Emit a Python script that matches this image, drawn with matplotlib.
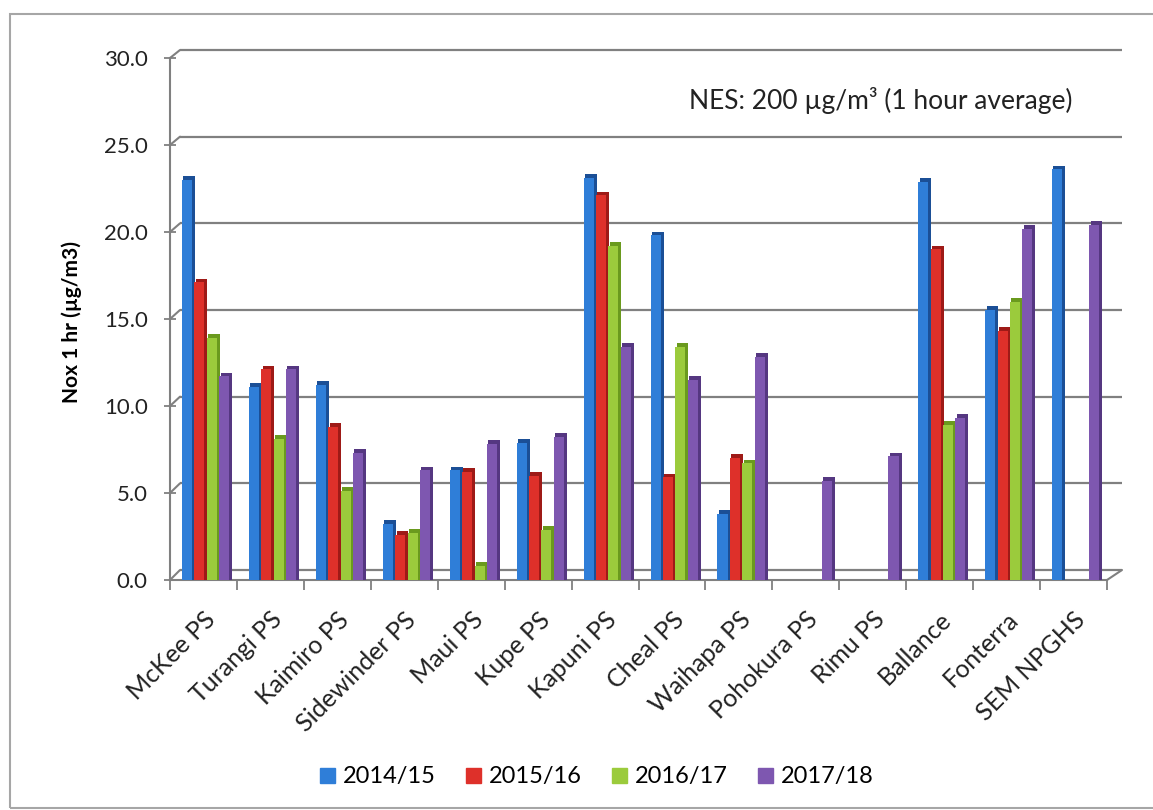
import numpy as np
import matplotlib.pyplot as plt
from matplotlib.patches import Patch, Rectangle, ConnectionPatch

plt.rcParams['font.family'] = ['Lato', 'DejaVu Sans']

# Data (NaN = no bar)
sites = ['McKee PS', 'Turangi PS', 'Kaimiro PS', 'Sidewinder PS', 'Maui PS', 'Kupe PS',
         'Kapuni PS', 'Cheal PS', 'Waihapa PS', 'Pohokura PS', 'Rimu PS', 'Ballance',
         'Fonterra', 'SEM NPGHS']
years = ['2014/15', '2015/16', '2016/17', '2017/18']
nox_1415 = [23.0, 11.1, 11.2, 3.2, 6.3, 7.9, 23.1, 19.8, 3.8, np.nan, np.nan, 22.9, 15.5, 23.6]
nox_1516 = [17.1, 12.1, 8.8, 2.6, 6.2, 6.0, 22.1, 5.9, 7.0, np.nan, np.nan, 19.0, 14.3, np.nan]
nox_1617 = [13.9, 8.1, 5.1, 2.7, 0.8, 2.9, 19.2, 13.4, 6.7, np.nan, np.nan, 8.9, 16.0, np.nan]
nox_1718 = [11.7, 12.1, 7.3, 6.3, 7.8, 8.2, 13.4, 11.5, 12.8, 5.7, 7.1, 9.3, 20.2, 20.4]
series = [nox_1415, nox_1516, nox_1617, nox_1718]

front_cols = ['#2F7ED8', '#DE302A', '#9BCB3C', '#7E57B0']
side_cols = ['#1B4F96', '#9E1A17', '#6A9A1E', '#553781']
grid_col = '#808080'

W, H = 1153, 810
fig = plt.figure(figsize=(W / 100, H / 100), dpi=100)


def box(l, r, t, b):
    return [l / W, 1 - b / H, (r - l) / W, (b - t) / H]


# back wall with gridlines
ax_back = fig.add_axes(box(180, 1122, 50, 570))
ax_back.set_xlim(-0.5, 13.5)
ax_back.set_ylim(0, 30)
ticks = np.arange(0, 31, 5)
ax_back.hlines(ticks, -0.5, 13.5, color=grid_col, lw=1.6, clip_on=False)
ax_back.set_xticks([])
ax_back.set_yticks([])
for s in ax_back.spines.values():
    s.set_visible(False)

# front axes holding the bars
ax = fig.add_axes(box(170, 1107, 58, 580))
ax.patch.set_alpha(0)
ax.set_xlim(-0.5, 13.5)
ax.set_ylim(0, 30)
x = np.arange(len(sites))
for i, vals in enumerate(series):
    left = x - 0.32 + i * 0.185
    ax.bar(left, vals, width=0.15, align='edge', color=front_cols[i], zorder=3)
    ax.bar(left + 0.15, vals, width=0.045, align='edge', color=side_cols[i], zorder=3)
    # thin top face for the 3D look
    ax.bar(left + 0.02, 0.22, bottom=vals, width=0.175, align='edge',
           color=side_cols[i], zorder=3)

ax.set_yticks(ticks, [f'{v:.1f}' for v in ticks])
ax.tick_params(axis='y', direction='inout', length=8, width=1.3, color=grid_col,
               pad=12, labelsize=16, labelcolor='#222222')
ax.set_xticks(x, sites, rotation=45, ha='right', rotation_mode='anchor')
ax.tick_params(axis='x', length=0, pad=20, labelsize=18, labelcolor='#222222')
ax.set_xticks(np.arange(-0.5, 14, 1), minor=True)
ax.tick_params(axis='x', which='minor', direction='out', length=7, width=1.3, color=grid_col)
for side in ['top', 'right']:
    ax.spines[side].set_visible(False)
for side in ['left', 'bottom']:
    ax.spines[side].set_color(grid_col)
    ax.spines[side].set_linewidth(1.5)

ax.set_ylabel('Nox 1 hr (µg/m3)', fontsize=15, fontweight='bold')
ax.yaxis.set_label_coords(-0.094, 0.494)

# 3D connectors between front axis and back wall
for v in ticks:
    fig.add_artist(ConnectionPatch(xyA=(-0.5, v), coordsA=ax.transData,
                                   xyB=(-0.5, v), coordsB=ax_back.transData,
                                   color=grid_col, lw=1.5))
fig.add_artist(ConnectionPatch(xyA=(13.5, 0), coordsA=ax.transData,
                               xyB=(13.5, 0), coordsB=ax_back.transData,
                               color=grid_col, lw=1.5))

fig.text(881 / W, 1 - 100 / H, 'NES: 200 µg/m³ (1 hour average)', ha='center', va='center',
         fontsize=19, color='#222222')

handles = [Patch(color=c) for c in front_cols]
fig.legend(handles, years, loc='center', bbox_to_anchor=(597 / W, 1 - 777 / H), ncol=4,
           frameon=False, fontsize=17, handlelength=0.6, handleheight=0.6,
           handletextpad=0.35, columnspacing=1.3)

# outer chart frame
fig.add_artist(Rectangle((10 / W, 0.003), 1.2, 1 - 14 / H - 0.003, transform=fig.transFigure,
                         fill=False, edgecolor='#a6a6a6', lw=1.5))

fig.savefig('out.png', dpi=100)
